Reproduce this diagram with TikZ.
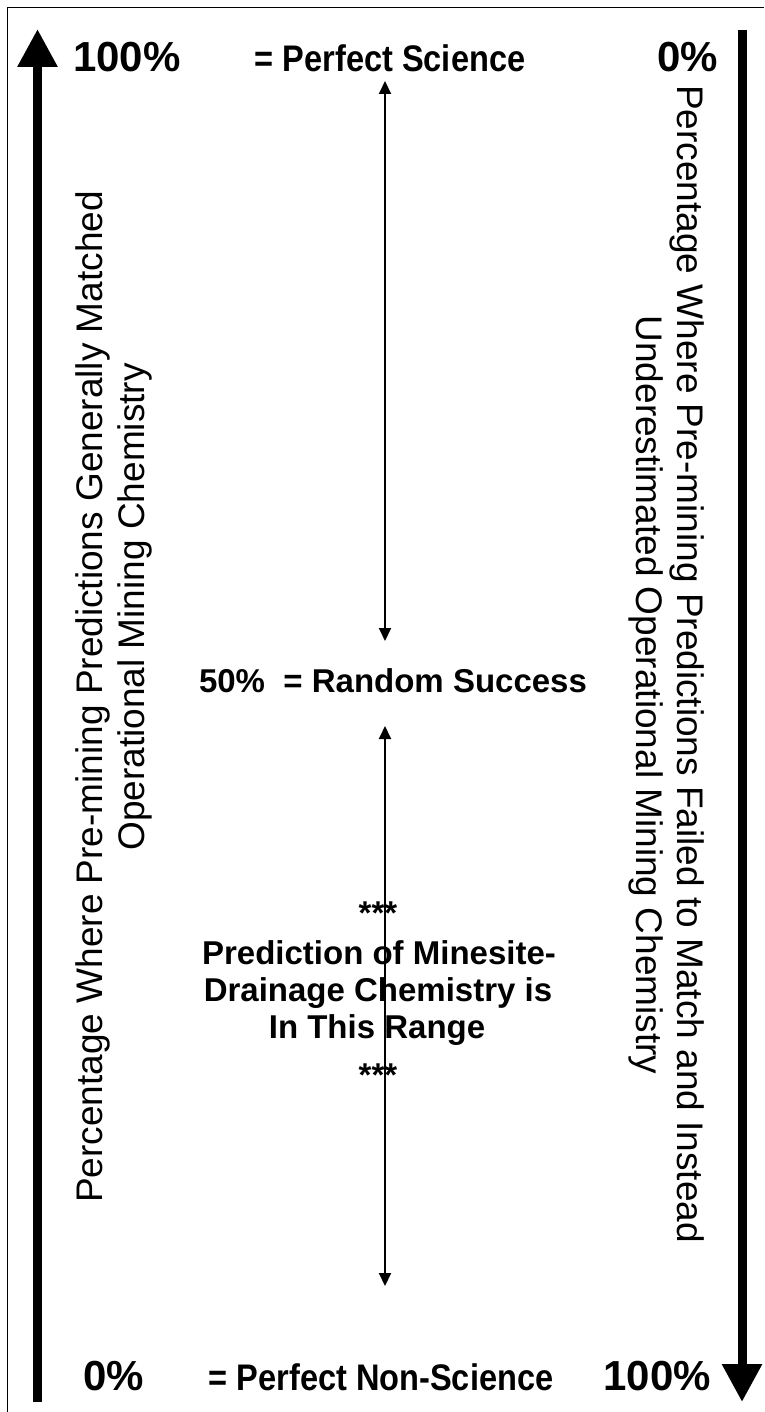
\documentclass[tikz,border=0pt]{standalone}
\usepackage{fontspec}
\setmainfont{Liberation Sans}
\usepackage{graphicx}
\usetikzlibrary{arrows.meta}
\begin{document}
\begin{tikzpicture}[x=1pt,y=-1pt,
  big/.style={font=\fontsize{42}{48}\selectfont\bfseries, inner sep=0pt},
  lbl/.style={font=\fontsize{33}{38}\selectfont\bfseries, inner sep=0pt},
  cond/.style={font=\fontsize{37}{44}\selectfont\bfseries, inner sep=0pt},
  side/.style={font=\fontsize{37}{40}\selectfont, inner sep=0pt},
  axis/.style={line width=9pt, -{Triangle[width=38pt,length=38pt]}},
  thinarrow/.style={line width=2pt, {Triangle[width=12pt,length=13pt]}-{Triangle[width=12pt,length=13pt]}},
  frame/.style={line width=1pt}
]
\useasboundingbox (0,0) rectangle (764,1412);

% frame (only left and top edges are visible)
\draw[frame] (7,1412) -- (7,8) -- (764,8);

% axes
\coordinate (Lbot) at (37.5,1402);
\coordinate (Ltop) at (37.5,29);
\coordinate (Rtop) at (742,30);
\coordinate (Rbot) at (742,1402);
\draw[axis] (Lbot) -- (Ltop);
\draw[axis] (Rtop) -- (Rbot);

% top row
\node[big, anchor=base west] (t100) at (73,72) {100\%};
\node[cond, anchor=base] (tsci) at (390,72) {\scalebox{0.88}[1]{= Perfect Science}};
\node[big, anchor=base east] (t0) at (718,72) {0\%};

% middle
\node[lbl, anchor=base] (mid) at (393,692) {50\%~~= Random Success};

% bottom row
\node[big, anchor=base west] (b0) at (83,1390) {0\%};
\node[cond, anchor=base] (bsci) at (381,1390) {\scalebox{0.88}[1]{= Perfect Non-Science}};
\node[big, anchor=base east] (b100) at (711,1390) {100\%};

% central statement
\node[lbl, anchor=base] (s1) at (378,924) {***};
\node[lbl, anchor=base] (p1) at (379,964) {Prediction of Minesite-};
\node[lbl, anchor=base] (p2) at (378,1001) {Drainage Chemistry is};
\node[lbl, anchor=base] (p3) at (377,1038) {In This Range};
\node[lbl, anchor=base] (s2) at (378,1086) {***};

% side texts
\node[side, rotate=90, anchor=base west] (L1) at (102,1203) {Percentage Where Pre-mining Predictions Generally Matched};
\node[side, rotate=90, anchor=base east] (L2) at (144,363) {Operational Mining Chemistry};
\node[side, rotate=-90, anchor=base west] (R1) at (677,85) {Percentage Where Pre-mining Predictions Failed to Match and Instead};
\node[side, rotate=-90, anchor=base] (R2) at (636,695) {Underestimated Operational Mining Chemistry};

% thin double arrows
\coordinate (a1) at (385,81);
\coordinate (a2) at (385,641);
\coordinate (a3) at (385,726);
\coordinate (a4) at (385,1286);
\draw[thinarrow] (a1) -- (a2);
\draw[thinarrow] (a3) -- (a4);
\end{tikzpicture}
\end{document}
